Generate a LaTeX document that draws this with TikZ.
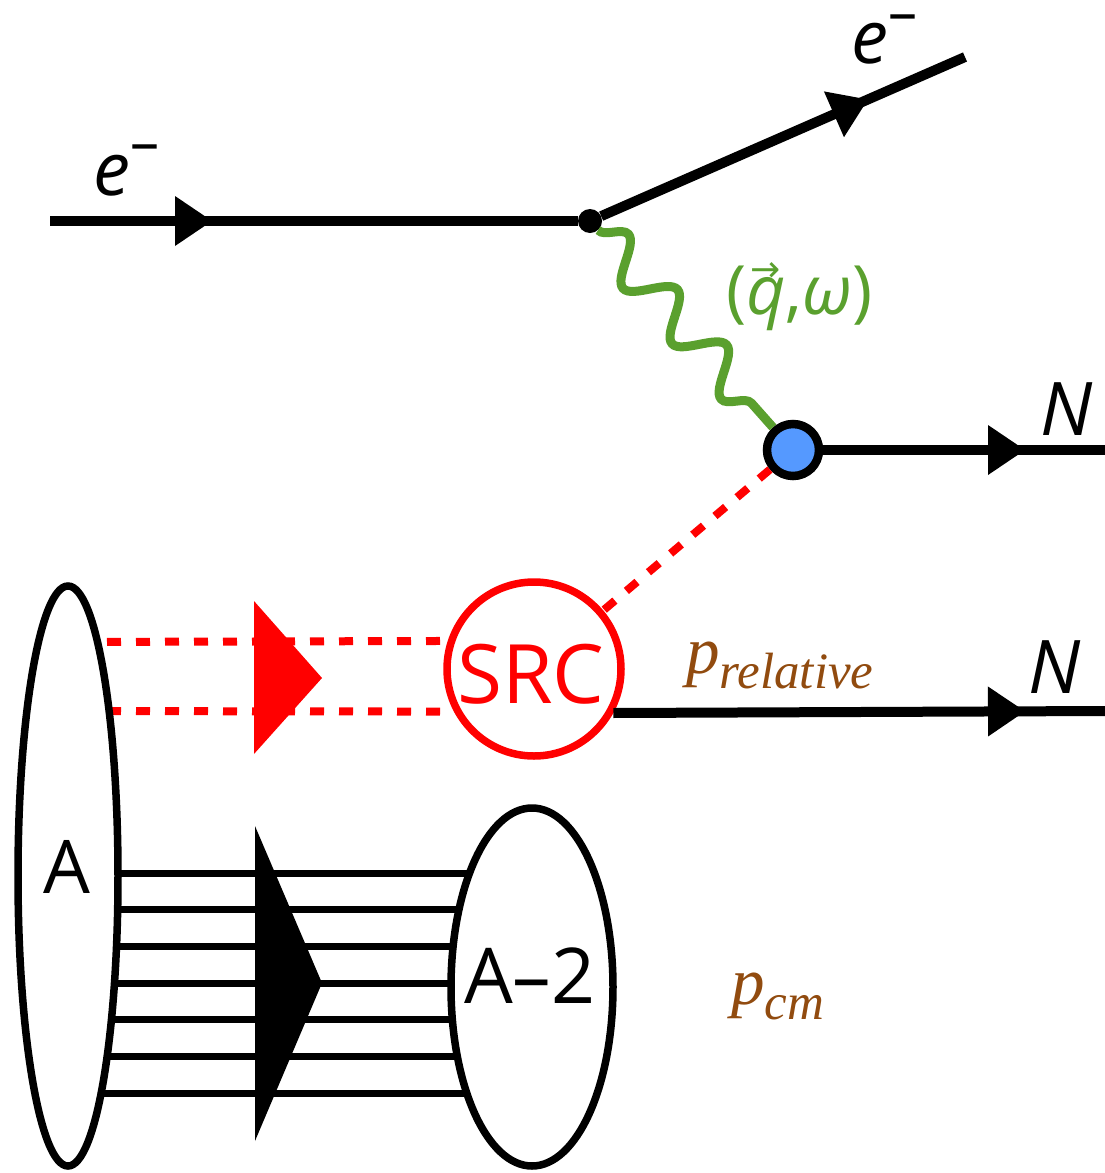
\documentclass[tikz,border=0pt]{standalone}
\usepackage{fontspec}
\setmainfont{Open Sans}
\newfontfamily\pserif{Liberation Serif}
\newfontfamily\dejavu{DejaVu Sans}
\usetikzlibrary{decorations.pathmorphing,decorations.markings,shapes.geometric,backgrounds}
\definecolor{phgreen}{RGB}{90,160,46}
\definecolor{blobblue}{RGB}{85,153,255}
\definecolor{pbrown}{RGB}{145,75,15}
\definecolor{srcred}{RGB}{255,0,0}
\newcommand\lblsize{\fontsize{74}{80}\selectfont}
\newcommand\supsize{\fontsize{58}{62}\selectfont}
\tikzset{
  fermion/.style={line width=10pt},
  midarrow/.style={postaction={decorate},decoration={markings,
      mark=at position #1 with {\fill (-37pt,25pt) -- (0pt,0pt) -- (-37pt,-25pt) -- cycle;}}},
  photon/.style={phgreen, line width=9pt, decorate,
      decoration={snake, segment length=74pt, amplitude=20pt}},
  reddash/.style={srcred, line width=8pt, dash pattern=on 14pt off 15pt},
  hline/.style={line width=7pt},
  lbl/.style={inner sep=0pt, anchor=base west},
  ellbox/.style={draw, ellipse, line width=7.5pt, fill=white, inner sep=0pt},
}
\begin{document}
\begin{tikzpicture}[x=1pt,y=-1pt]
\useasboundingbox (0,0) rectangle (1105,1173);
% nodes
\node[ellbox, minimum width=100pt, minimum height=580pt] (A) at (68,876) {};
\node[ellbox, minimum width=162pt, minimum height=358pt] (A2) at (532,987) {};
\node[draw=srcred, circle, line width=7.5pt, fill=white, minimum size=174pt, inner sep=0pt] (s) at (534,669) {};
\node[draw, circle, line width=8.5pt, fill=blobblue, minimum size=52pt, inner sep=0pt] (b) at (793,450) {};
\node[fill, circle, minimum size=24pt, inner sep=0pt] (v) at (590,221) {};
\coordinate (ein) at (50,221);
\coordinate (eout) at (965,57);
\coordinate (n1) at (1105,450);
\coordinate (n2) at (1105,711);
% background lines
\begin{scope}[on background layer]
  \foreach \yy in {873,909.7,946.3,983,1019.7,1056.3,1093}
    \draw[hline] (A.center |- 0,\yy) -- (A2.center |- 0,\yy);
  \draw[reddash, dash phase=19pt] (A.center |- 0,642) -- (s.162);
  \draw[reddash, dash phase=19pt] (A.center |- 0,711) -- (s.208.5);
\end{scope}
% momentum triangles
\fill[srcred] (254,601) -- (322,678) -- (254,754) -- cycle;
\fill (255,826) -- (322,983) -- (255,1141) -- cycle;
% connectors
\draw[fermion, midarrow=162pt] (ein) -- (v);
\draw[fermion, midarrow=-106pt] (v) -- (eout);
\draw[photon] (v) -- (b);
\draw[fermion, midarrow=-80pt] (b) -- (n1);
\draw[fermion, midarrow=-80pt] (s.331.5) -- (n2);
\draw[reddash] (b) -- (s);
% labels
\node[lbl] (le1) at (93,195) {\lblsize\itshape e\smash{\raisebox{33pt}{\supsize\upshape –}}};
\node[lbl] (le2) at (851,63) {\lblsize\itshape e\smash{\raisebox{31pt}{\supsize\upshape –}}};
\node[lbl, phgreen] (lq) at (726,314) {\fontsize{68}{72}\selectfont (\makebox[0pt][l]{\hspace{4pt}\smash{\raisebox{33pt}{\dejavu\fontsize{36}{38}\selectfont →}}}{\itshape q},{\itshape ω})};
\node[lbl] (lN1) at (1040,435) {\lblsize\itshape N};
\node[lbl] (lN2) at (1028,693) {\lblsize\itshape N};
\node[inner sep=0pt, anchor=base, srcred] (ls) at (531,703) {\fontsize{82}{88}\selectfont SRC};
\node[lbl] (lA) at (43,893) {\lblsize A};
\node[lbl] (lA2) at (464,1003) {\fontsize{77}{82}\selectfont A–2};
\node[lbl, pbrown] (lpr) at (686,673) {\pserif\itshape\fontsize{67}{70}\selectfont p\raisebox{-15pt}{\fontsize{51}{55}\selectfont relative}};
\node[lbl, pbrown] (lpc) at (731,1004) {\pserif\itshape\fontsize{67}{70}\selectfont p\raisebox{-15pt}{\fontsize{51}{55}\selectfont cm}};
\end{tikzpicture}
\end{document}
